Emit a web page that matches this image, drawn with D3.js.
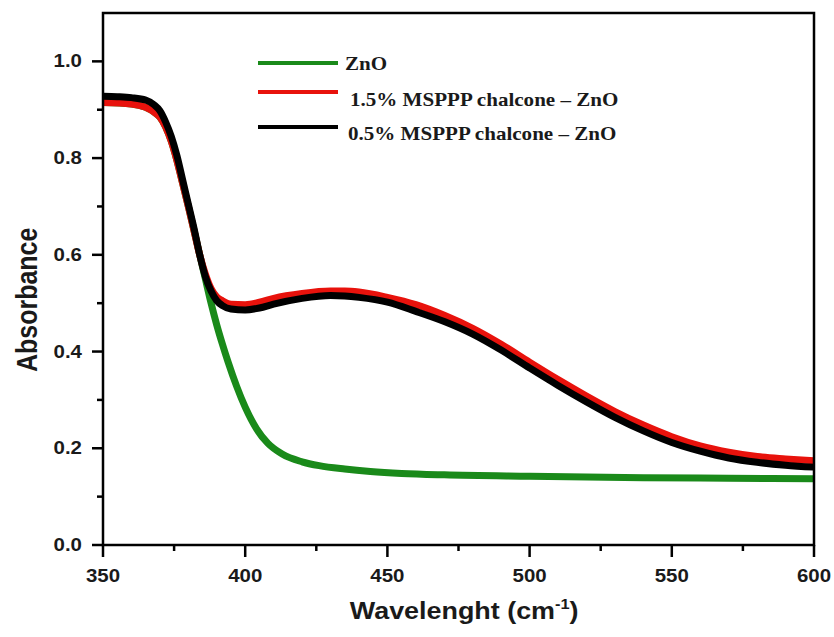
<!DOCTYPE html>
<html>
<head>
<meta charset="utf-8">
<script src="https://cdn.jsdelivr.net/npm/d3@7"></script>
<style>
  body { margin: 0; background: #fff; }
  svg { display: block; }
</style>
</head>
<body>
<div id="chart"></div>
<script>
// wavelength (nm) and absorbance
const znoX = [350, 360, 365, 368, 370, 372, 374, 376, 378, 380, 382, 384, 386, 388, 390, 392, 394, 397, 400, 404, 408, 413, 420, 426, 435, 444, 455, 470, 500, 540, 570, 600];
const znoY = [0.915, 0.912, 0.905, 0.895, 0.885, 0.865, 0.835, 0.795, 0.748, 0.70, 0.65, 0.60, 0.55, 0.50, 0.455, 0.415, 0.378, 0.328, 0.285, 0.24, 0.21, 0.188, 0.172, 0.164, 0.157, 0.152, 0.148, 0.145, 0.142, 0.139, 0.138, 0.137];

const redX = [350, 360, 365, 368, 370, 372, 374, 376, 378, 380, 382, 384, 386, 388, 390, 392, 395, 400, 405, 410, 420, 430, 435, 440, 450, 460, 470, 480, 490, 500, 510, 520, 530, 540, 550, 560, 570, 580, 590, 600];
const redY = [0.915, 0.912, 0.905, 0.895, 0.885, 0.865, 0.835, 0.795, 0.748, 0.70, 0.65, 0.60, 0.56, 0.53, 0.513, 0.505, 0.498, 0.497, 0.502, 0.51, 0.52, 0.525, 0.525, 0.523, 0.512, 0.497, 0.475, 0.448, 0.415, 0.378, 0.342, 0.308, 0.276, 0.248, 0.224, 0.205, 0.192, 0.183, 0.178, 0.174];

const blackX = [350, 355, 360, 365, 368, 370, 372, 374, 376, 378, 380, 382, 384, 386, 388, 390, 392, 395, 400, 405, 410, 420, 430, 435, 440, 450, 460, 470, 480, 490, 500, 510, 520, 530, 540, 550, 560, 570, 580, 590, 600];
const blackY = [0.928, 0.927, 0.925, 0.92, 0.91, 0.898, 0.875, 0.845, 0.805, 0.755, 0.705, 0.655, 0.60, 0.555, 0.525, 0.505, 0.495, 0.488, 0.486, 0.49, 0.498, 0.51, 0.516, 0.515, 0.512, 0.502, 0.483, 0.462, 0.436, 0.403, 0.366, 0.330, 0.296, 0.264, 0.236, 0.212, 0.194, 0.180, 0.171, 0.165, 0.161];

const xTicks = [350, 400, 450, 500, 550, 600];
const yTicks = [0.0, 0.2, 0.4, 0.6, 0.8, 1.0];
const legendLabels = ["ZnO", "1.5% MSPPP chalcone \u2013 ZnO", "0.5% MSPPP chalcone \u2013 ZnO"];

const width = 834, height = 637;
const margin = {top: 13, right: 20, bottom: 92, left: 103};
const stretch = 1.17; // the source image is widened a bit, text included
const sans = "Liberation Sans, Arial, sans-serif";

const svg = d3.select("#chart").append("svg")
    .attr("width", width)
    .attr("height", height);

const x = d3.scaleLinear().domain([350, 600]).range([margin.left, width - margin.right]);
const y = d3.scaleLinear().domain([0, 1.1]).range([height - margin.bottom, margin.top]);

const series = [
  {xs: znoX, ys: znoY, color: "#1a8a1a"},
  {xs: redX, ys: redY, color: "#e8120c"},
  {xs: blackX, ys: blackY, color: "#000"}
];

const line = d3.line()
    .x(d => x(d[0]))
    .y(d => y(d[1]))
    .curve(d3.curveMonotoneX);

const plot = svg.append("g");
series.forEach(s => {
  const pts = s.xs.map((v, i) => [v, s.ys[i]]);
  plot.append("path")
      .datum(pts)
      .attr("fill", "none")
      .attr("stroke", s.color)
      .attr("stroke-width", 7)
      .attr("stroke-linejoin", "round")
      .attr("d", line);
});

// frame
svg.append("rect")
    .attr("x", margin.left)
    .attr("y", margin.top)
    .attr("width", width - margin.right - margin.left)
    .attr("height", height - margin.bottom - margin.top)
    .attr("fill", "none")
    .attr("stroke", "#000")
    .attr("stroke-width", 2.5);

// text helper: widened text placed at (px, py)
function label(g, px, py, anchor, size, family, txt) {
  return g.append("g")
      .attr("transform", `translate(${px},${py}) scale(${stretch},1)`)
    .append("text")
      .attr("text-anchor", anchor)
      .attr("font-family", family)
      .attr("font-weight", "bold")
      .attr("font-size", size)
      .attr("fill", "#1a1a1a")
      .text(txt);
}

// x axis
const xAxis = svg.append("g").attr("transform", `translate(0,${height - margin.bottom})`);
xAxis.selectAll("line.minor")
    .data(d3.range(375, 600, 50))
    .join("line")
    .attr("x1", d => x(d)).attr("x2", d => x(d))
    .attr("y1", 0).attr("y2", 6)
    .attr("stroke", "#000").attr("stroke-width", 2.5);
xAxis.selectAll("line.major")
    .data(xTicks)
    .join("line")
    .attr("x1", d => x(d)).attr("x2", d => x(d))
    .attr("y1", 0).attr("y2", 12)
    .attr("stroke", "#000").attr("stroke-width", 2.5);
xTicks.forEach(d => label(xAxis, x(d), 37, "middle", 17.5, sans, d));

// y axis
const yAxis = svg.append("g").attr("transform", `translate(${margin.left},0)`);
yAxis.selectAll("line.minor")
    .data([0.1, 0.3, 0.5, 0.7, 0.9])
    .join("line")
    .attr("x1", -6).attr("x2", 0)
    .attr("y1", d => y(d)).attr("y2", d => y(d))
    .attr("stroke", "#000").attr("stroke-width", 2.5);
yAxis.selectAll("line.major")
    .data(yTicks)
    .join("line")
    .attr("x1", -11).attr("x2", 0)
    .attr("y1", d => y(d)).attr("y2", d => y(d))
    .attr("stroke", "#000").attr("stroke-width", 2.5);
yTicks.forEach(d => label(yAxis, -21, y(d) + 6, "end", 17.5, sans, d3.format(".1f")(d)));

// axis titles
svg.append("g")
    .attr("transform", `translate(37,${y(0.507)}) scale(${stretch},1) rotate(-90)`)
  .append("text")
    .attr("text-anchor", "middle")
    .attr("font-family", sans)
    .attr("font-weight", "bold")
    .attr("font-size", 25)
    .attr("fill", "#1a1a1a")
    .text("Absorbance");

const xt = svg.append("g")
    .attr("transform", `translate(${x(477)},619) scale(${stretch},1)`)
  .append("text")
    .attr("text-anchor", "middle")
    .attr("font-family", sans)
    .attr("font-weight", "bold")
    .attr("font-size", 23)
    .attr("fill", "#1a1a1a");
xt.append("tspan").text("Wavelenght (cm");
xt.append("tspan").attr("font-size", 14).attr("dy", -10).text("-1");
xt.append("tspan").attr("dy", 10).text(")");

// legend
const legendLineY = [63, 92, 127];
const legendTextY = [70, 106, 140];
const legendTextX = [345, 350, 348];
const legend = svg.append("g");
legendLabels.forEach((lab, i) => {
  legend.append("line")
      .attr("x1", 258).attr("x2", 338)
      .attr("y1", legendLineY[i]).attr("y2", legendLineY[i])
      .attr("stroke", series[i].color)
      .attr("stroke-width", 4);
  label(legend, legendTextX[i], legendTextY[i], "start", 18, "Liberation Serif, Times New Roman, serif", lab);
});
</script>
</body>
</html>
